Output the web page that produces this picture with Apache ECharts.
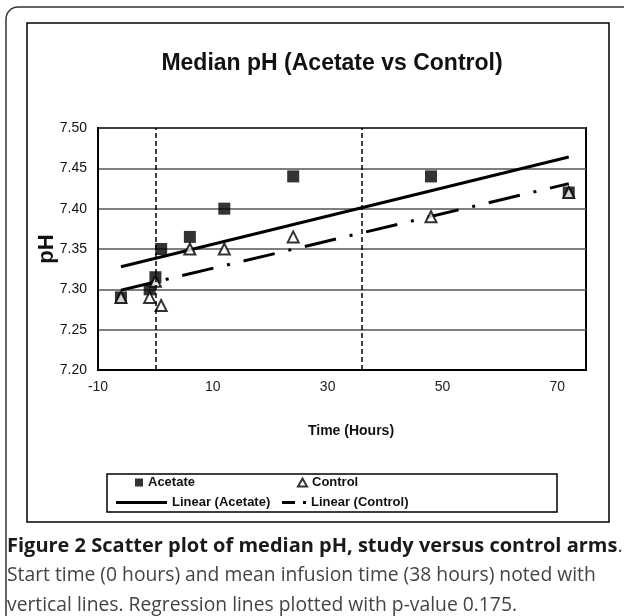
<!DOCTYPE html>
<html>
<head>
<meta charset="utf-8">
<script src="https://cdn.jsdelivr.net/npm/echarts@6/dist/echarts.min.js"></script>
<style>
html,body{margin:0;padding:0;background:#fff;}
#chart{width:624px;height:616px;}
</style>
</head>
<body>
<div id="chart"></div>
<script>
// median pH over time
var hours = [-6, -1, 0, 1, 6, 12, 24, 48, 72];
var acetatePH = [7.29, 7.30, 7.315, 7.35, 7.365, 7.40, 7.44, 7.44, 7.42];
var controlPH = [7.29, 7.29, 7.31, 7.28, 7.35, 7.35, 7.365, 7.39, 7.42];
// regression line end points (as drawn)
var linAcetate = [[-6, 7.328], [72, 7.464]];
var linControl = [[-6, 7.299], [72, 7.431]];
// start time and infusion time markers
var vLines = [0, 36];
var xTicks = [-10, 10, 30, 50, 70];

function pairs(xs, ys){
	var out = [];
	for (var i = 0; i < xs.length; i++) {
		out.push([xs[i], ys[i]]);
	}
	return out;
}

var myChart = echarts.init(document.getElementById('chart'));
var font = 'Liberation Sans, Arial, sans-serif';
var capFont = 'Open Sans, Noto Sans, sans-serif';
var legendText = {fontFamily: font, fontSize: 13, fontWeight: 'bold', color: '#111'};

var option = {
	animation: false,
	backgroundColor: '#fff',
	title: {
		text: 'Median pH (Acetate vs Control)',
		left: 332,
		top: 52,
		padding: 0,
		textAlign: 'center',
		textStyle: {fontFamily: font, fontSize: 23, fontWeight: 'bold', color: '#111'}
	},
	grid: {
		left: 98, top: 128, width: 488, height: 242,
		show: true, borderColor: '#000', borderWidth: 2
	},
	xAxis: {
		type: 'value',
		min: -10, max: 75, interval: 20,
		name: 'Time (Hours)',
		nameLocation: 'middle',
		nameGap: 54,
		nameTextStyle: {fontFamily: font, fontSize: 14, fontWeight: 'bold', color: '#111', padding: [0, 0, 0, 18]},
		axisLine: {show: true, onZero: false, lineStyle: {color: '#000', width: 2}},
		axisTick: {show: false},
		splitLine: {show: false},
		axisLabel: {
			fontFamily: font, fontSize: 14, color: '#222', margin: 10,
			formatter: function (v) { return xTicks.indexOf(v) >= 0 ? String(v) : ''; }
		}
	},
	yAxis: {
		type: 'value',
		min: 7.2, max: 7.5, interval: 0.05,
		name: 'pH',
		nameLocation: 'middle',
		nameRotate: 90,
		nameGap: 40,
		nameMoveOverlap: false,
		nameTextStyle: {fontFamily: font, fontSize: 22, fontWeight: 'bold', color: '#111'},
		axisLine: {show: true, onZero: false, lineStyle: {color: '#000', width: 2}},
		axisTick: {show: false},
		splitLine: {show: true, lineStyle: {color: '#555', width: 1.5}},
		axisLabel: {
			fontFamily: font, fontSize: 14, color: '#111', margin: 11,
			formatter: function (v) { return v.toFixed(2); }
		}
	},
	legend: [
		{data: ['Acetate'], left: 135, top: 476, itemWidth: 8, itemHeight: 8, padding: 0,
			textStyle: legendText},
		{data: ['Control'], left: 297, top: 476, itemWidth: 9, itemHeight: 8, padding: 0,
			textStyle: legendText},
		{data: [{name: 'Linear (Acetate)', icon: 'rect'}], left: 116, top: 496, itemWidth: 51, itemHeight: 3, padding: 0,
			textStyle: legendText},
		{data: [{name: 'Linear (Control)', icon: 'path://M0,0H13V3H0Z M21,0H24V3H21Z'}], left: 282, top: 496, itemWidth: 24, itemHeight: 3, padding: 0,
			textStyle: legendText}
	],
	graphic: [
		{type: 'rect', silent: true, z: -1,
			shape: {x: 6, y: 7, width: 650, height: 650, r: 12},
			style: {fill: 'none', stroke: '#333', lineWidth: 1.5}},
		{type: 'rect', silent: true, z: -1,
			shape: {x: 27, y: 23, width: 582, height: 499},
			style: {fill: 'none', stroke: '#000', lineWidth: 1.5}},
		{type: 'rect', silent: true, z: -1,
			shape: {x: 107, y: 474, width: 450, height: 38},
			style: {fill: 'none', stroke: '#000', lineWidth: 1.5}},
		{type: 'text', left: 7, top: 536, silent: true,
			style: {
				text: '{b|Figure 2 Scatter plot of median pH, study versus control arms}{n|.}',
				rich: {
					b: {fontFamily: capFont, fontSize: 20, fontWeight: 'bold', fill: '#1a1a1a'},
					n: {fontFamily: capFont, fontSize: 20, fill: '#444'}
				}
			}},
		{type: 'text', left: 7, top: 566, silent: true,
			style: {text: 'Start time (0 hours) and mean infusion time (38 hours) noted with',
				fontFamily: capFont, fontSize: 19.3, fill: '#444'}},
		{type: 'text', left: 7, top: 596, silent: true,
			style: {text: 'vertical lines. Regression lines plotted with p-value 0.175.',
				fontFamily: capFont, fontSize: 19.3, fill: '#444'}}
	],
	series: [
		{
			name: 'Acetate',
			type: 'scatter',
			symbol: 'rect',
			symbolSize: 12,
			itemStyle: {color: '#000'},
			data: pairs(hours, acetatePH),
			markLine: {
				silent: true,
				symbol: 'none',
				label: {show: false},
				lineStyle: {color: '#000', width: 1.5, type: [5, 3]},
				data: vLines.map(function (v) { return {xAxis: v}; })
			},
			z: 3
		},
		{
			name: 'Control',
			type: 'scatter',
			symbol: 'triangle',
			symbolSize: [11, 11],
			itemStyle: {color: '#fff', borderColor: '#000', borderWidth: 2},
			data: pairs(hours, controlPH),
			z: 4
		},
		{
			name: 'Linear (Acetate)',
			type: 'line',
			symbol: 'none',
			lineStyle: {color: '#000', width: 3},
			itemStyle: {color: '#000'},
			data: linAcetate,
			z: 2
		},
		{
			name: 'Linear (Control)',
			type: 'line',
			symbol: 'none',
			lineStyle: {color: '#000', width: 3, type: [32, 14, 3, 14]},
			itemStyle: {color: '#000'},
			data: linControl,
			z: 2
		}
	]
};

myChart.setOption(option);
</script>
</body>
</html>
